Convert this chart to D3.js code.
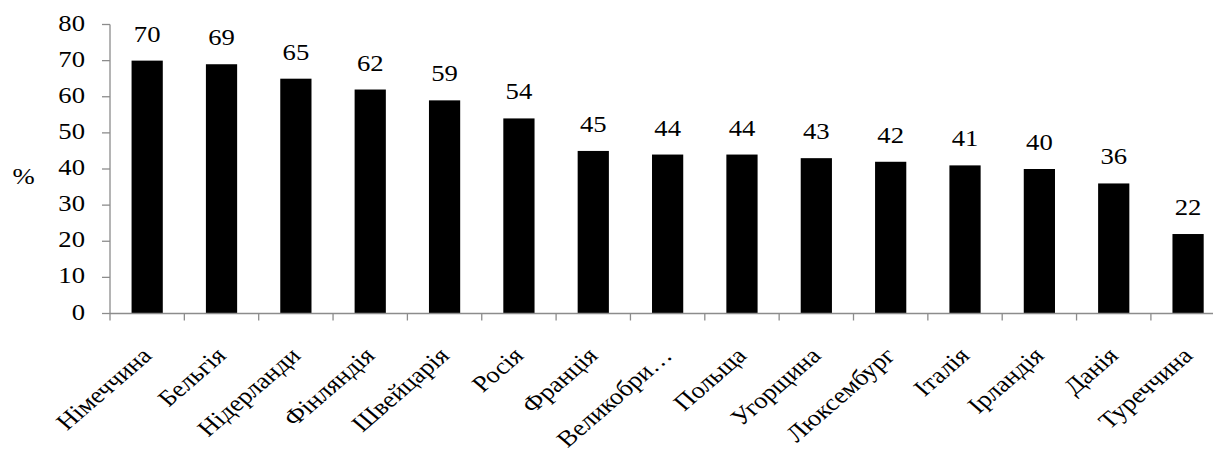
<!DOCTYPE html>
<html>
<head>
<meta charset="utf-8">
<script src="https://cdn.jsdelivr.net/npm/d3@7"></script>
<style>
  html, body { margin: 0; padding: 0; background: #fff; overflow: hidden; }
  svg { display: block; }
</style>
</head>
<body>
<svg id="chart" width="1213" height="452"></svg>
<script>
const categories = ["Німеччина", "Бельгія", "Нідерланди", "Фінляндія", "Швейцарія", "Росія", "Франція", "Великобри…", "Польща", "Угорщина", "Люксембург", "Італія", "Ірландія", "Данія", "Туреччина"];
const values = [70, 69, 65, 62, 59, 54, 45, 44, 44, 43, 42, 41, 40, 36, 22];
const yTicks = [0, 10, 20, 30, 40, 50, 60, 70, 80];
const yLabel = "%";

const x0 = 110, x1 = 110 + 15 * 74.35;
const yTop = 24.5, yBottom = 313.5;
const sx = 1.16;      // horizontal stretch of the reference text
const fontSize = 23;
const fontFamily = "Liberation Serif";
const axisColor = "#8c8c8c";

const svg = d3.select("#chart");

const x = d3.scaleBand().domain(categories).range([x0, x1]).paddingInner(0.58).paddingOuter(0.29);
const y = d3.scaleLinear().domain([0, 80]).range([yBottom, yTop]);

function styleText(sel) {
  return sel.style("font-family", fontFamily).style("font-size", fontSize + "px").attr("fill", "#000");
}

// bars
svg.append("g").selectAll("rect").data(values).join("rect")
  .attr("x", (d, i) => x(categories[i]))
  .attr("y", d => y(d))
  .attr("width", x.bandwidth())
  .attr("height", d => y(0) - y(d))
  .attr("fill", "#000");

// value labels
svg.append("g").selectAll("text").data(values).join("text")
  .attr("transform", (d, i) => `translate(${x(categories[i]) + x.bandwidth() / 2},${y(d) - 19}) scale(${sx},1)`)
  .attr("text-anchor", "middle")
  .call(styleText)
  .text(d => d);

// y axis
const yAxis = svg.append("g");
yAxis.append("line").attr("x1", x0).attr("x2", x0).attr("y1", y(80)).attr("y2", y(0))
  .attr("stroke", axisColor).attr("stroke-width", 1.3);
yAxis.selectAll("line.tick").data(yTicks).join("line").attr("class", "tick")
  .attr("x1", x0 - 8).attr("x2", x0).attr("y1", d => y(d)).attr("y2", d => y(d))
  .attr("stroke", axisColor).attr("stroke-width", 1.3);
yAxis.selectAll("text").data(yTicks).join("text")
  .attr("transform", d => `translate(85,${y(d) + 6}) scale(${sx},1)`)
  .attr("text-anchor", "end")
  .call(styleText)
  .text(d => d);

// y label
svg.append("text")
  .attr("transform", `translate(23.5,183.5) scale(${sx},1)`)
  .attr("text-anchor", "middle")
  .call(styleText)
  .text(yLabel);

// x axis
const xAxis = svg.append("g");
xAxis.append("line").attr("x1", x0).attr("x2", x1).attr("y1", y(0)).attr("y2", y(0))
  .attr("stroke", axisColor).attr("stroke-width", 1.3);
const step = x.step();
const boundaries = d3.range(categories.length + 1).map(i => x0 + i * step);
xAxis.selectAll("line.tick").data(boundaries).join("line").attr("class", "tick")
  .attr("x1", d => d).attr("x2", d => d).attr("y1", y(0)).attr("y2", y(0) + 7)
  .attr("stroke", axisColor).attr("stroke-width", 1.3);
xAxis.selectAll("text").data(categories).join("text")
  .attr("transform", d => `translate(${x(d) + x.bandwidth() / 2 + 6},357) scale(${sx},1) rotate(-45)`)
  .attr("text-anchor", "end")
  .call(styleText)
  .text(d => d);
</script>
</body>
</html>
